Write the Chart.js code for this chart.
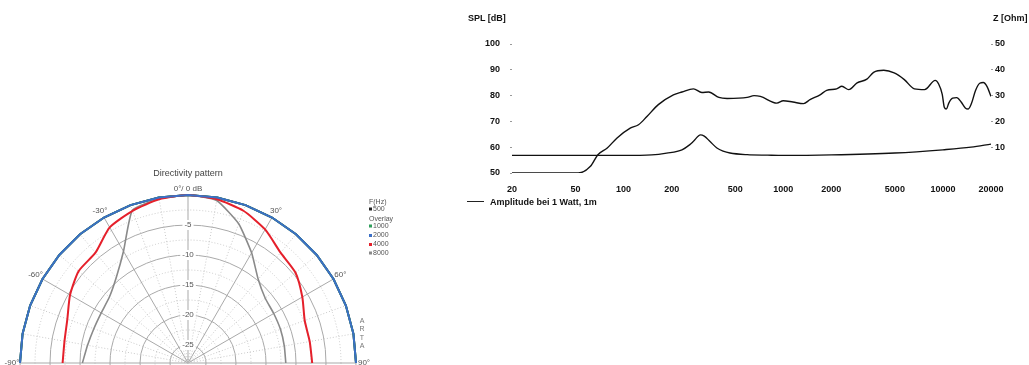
<!DOCTYPE html>
<html>
<head>
<meta charset="utf-8">
<script src="https://cdn.jsdelivr.net/npm/chart.js@4.4.1/dist/chart.umd.min.js"></script>
<style>
html, body { margin: 0; padding: 0; background: #fff; width: 1029px; height: 365px; overflow: hidden; position: relative; font-family: "Liberation Sans", Arial, sans-serif; }
#polarBox { position: absolute; left: 0; top: 150px; }
#freqBox { position: absolute; left: 460px; top: 0; }
.hdr { position: absolute; font-weight: bold; font-size: 9px; line-height: 10px; color: #111; white-space: nowrap; }
.legLine { position: absolute; left: 467px; top: 201px; width: 17px; height: 1px; background: #222; }
</style>
</head>
<body>
<div id="polarBox"><canvas id="polar" width="420" height="430"></canvas></div>
<div id="freqBox"><canvas id="freq" width="569" height="215"></canvas></div>
<div class="hdr" style="left:468px;top:13px">SPL [dB]</div>
<div class="hdr" style="left:993px;top:13px">Z [Ohm]</div>
<div class="legLine"></div>
<div class="hdr" style="left:490px;top:197px">Amplitude bei 1 Watt, 1m</div>
<script>
// frequency response (right)
var FREQ_TICKS = [20, 50, 100, 200, 500, 1000, 2000, 5000, 10000, 20000];
var SPL_TICKS = [50, 60, 70, 80, 90, 100];
var Z_TICKS = [10, 20, 30, 40, 50];

var SPL_FREQ = [20, 52, 62, 69, 79, 91, 110, 124, 140, 165, 205, 232, 274, 309, 341, 395, 445, 594, 656, 718,
  912, 1000, 1150, 1340, 1470, 1700, 1870, 2160, 2330, 2570, 2900, 3340, 3680, 4260, 4950, 5730, 6630, 7670,
  8950, 9400, 9900, 10200, 10500, 10900, 11500, 12200, 13000, 13800, 14400, 15100, 16000, 17000, 17900, 18900, 20000];
var SPL_DB = [50, 50, 52.6, 57.1, 59.7, 63.6, 67.4, 68.7, 71.9, 76.5, 80.3, 81.4, 82.6, 81.2, 81.4, 79.3, 78.9, 79.3, 80, 79.7,
  77.1, 78, 77.5, 76.9, 78.4, 80.3, 82, 82.6, 83.6, 82.3, 84.9, 86.4, 89, 89.8, 88.8, 86.2, 82.6, 82.3,
  85.9, 84.5, 80.5, 75.5, 74.8, 77.2, 79, 79.2, 77.5, 75.2, 74.8, 77, 82, 84.8, 85.1, 83.5, 79.7];

var Z_FREQ = [20, 100, 150, 186, 232, 260, 274, 303, 320, 348, 384, 420, 464, 594, 800, 1000, 2000, 5000, 10000, 15000, 20000];
var Z_OHM = [6.8, 6.8, 7, 7.7, 9, 11, 12.3, 14.8, 14.3, 12.2, 9.7, 8.5, 7.75, 7.1, 6.9, 6.8, 7, 7.75, 9, 10, 11.2];

// directivity pattern (left)
var POLAR_ANGLES = [-90, -80, -70, -60, -50, -40, -30, -20, -10, 0, 10, 20, 30, 40, 50, 60, 70, 80, 90];
var DIR_500 = [0, 0, 0, 0, 0, 0, 0, 0, 0, 0, 0, 0, 0, 0, 0, 0, 0, 0, 0];
var DIR_1000 = [0, 0, 0, 0, 0, 0, 0, 0, 0, 0, 0, 0, 0, 0, 0, 0, 0, 0, 0];
var DIR_2000 = [0, 0, 0, 0, 0, 0, 0, 0, 0, 0, 0, 0, 0, 0, 0, 0, 0, 0, 0];
var DIR_4000 = [-7.1, -7.1, -6.6, -5.3, -4.2, -4.0, -1.9, -1.0, -0.3, 0, -0.3, -1.0, -2.3, -4.0, -4.6, -6.0, -7.3, -7.4, -7.3];
var DIR_8000 = [-10.4, -11.0, -11.3, -11.3, -10.9, -9.4, -6.5, -0.9, -0.2, 0, -0.5, -3.3, -6.8, -9.8, -11.2, -11.5, -11.6, -11.7, -11.7];
var RING_LABELS = [-5, -10, -15, -20, -25];
var ANGLE_LABELS = [-90, -60, -30, 0, 30, 60, 90];

var FONT = '"Liberation Sans", Arial, sans-serif';

function pairs(xs, ys) {
  return xs.map(function(x, i) { return { x: x, y: ys[i] }; });
}

new Chart(document.getElementById('freq'), {
  type: 'line',
  data: {
    datasets: [
      { label: 'Amplitude bei 1 Watt, 1m', data: pairs(SPL_FREQ, SPL_DB), yAxisID: 'y', borderColor: '#111', borderWidth: 1.4, pointRadius: 0, cubicInterpolationMode: 'monotone', fill: false },
      { label: 'Z', data: pairs(Z_FREQ, Z_OHM), yAxisID: 'z', borderColor: '#111', borderWidth: 1.3, pointRadius: 0, cubicInterpolationMode: 'monotone', fill: false }
    ]
  },
  options: {
    responsive: false,
    animation: false,
    layout: { padding: { top: 44, bottom: 22, left: 0, right: 0 } },
    plugins: { legend: { display: false }, tooltip: { enabled: false } },
    scales: {
      x: {
        type: 'logarithmic', min: 20, max: 20000,
        grid: { display: false }, border: { display: false },
        afterBuildTicks: function(s) { s.ticks = FREQ_TICKS.map(function(v) { return { value: v }; }); },
        afterFit: function(s) { s.height = 20; },
        ticks: { autoSkip: false, maxRotation: 0, padding: 3, color: '#111', font: { family: FONT, size: 9, weight: 'bold' },
          callback: function(v) { return String(v); } }
      },
      y: {
        position: 'left', min: 50, max: 100,
        grid: { drawOnChartArea: false, tickLength: 2, tickColor: '#999' }, border: { display: false },
        afterBuildTicks: function(s) { s.ticks = SPL_TICKS.map(function(v) { return { value: v }; }); },
        afterFit: function(s) { s.width = 52; },
        ticks: { padding: 10, color: '#111', font: { family: FONT, size: 9, weight: 'bold' } }
      },
      z: {
        position: 'right', min: 0, max: 50,
        grid: { drawOnChartArea: false, tickLength: 2, tickColor: '#999' }, border: { display: false },
        afterBuildTicks: function(s) { s.ticks = Z_TICKS.map(function(v) { return { value: v }; }); },
        afterFit: function(s) { s.width = 38; },
        ticks: { padding: 2, color: '#111', font: { family: FONT, size: 9, weight: 'bold' } }
      }
    }
  }
});

// radar labels every 10 degrees, clockwise from the top
var radarLabels = [];
for (var a = 0; a < 360; a += 10) radarLabels.push(String(a));

function toRadar(values) {
  var out = radarLabels.map(function() { return null; });
  POLAR_ANGLES.forEach(function(ang, i) { out[((ang + 360) % 360) / 10] = values[i]; });
  return out;
}

var POLAR_SERIES = [
  { freq: '500', color: '#222222', data: DIR_500, width: 2, tension: 0 },
  { freq: '1000', color: '#2f9e5b', data: DIR_1000, width: 2, tension: 0 },
  { freq: '2000', color: '#3b6fc6', data: DIR_2000, width: 2, tension: 0 },
  { freq: '4000', color: '#e5202b', data: DIR_4000, width: 2, tension: 0.2 },
  { freq: '8000', color: '#8a8a8a', data: DIR_8000, width: 1.6, tension: 0.15 }
];
var DRAW_ORDER = ['2000', '4000', '8000', '1000', '500'];

function isVisibleAngle(i) { return i <= 9 || i >= 27; }

var polarText = {
  id: 'polarText',
  afterDraw: function(chart) {
    var ctx = chart.ctx, r = chart.scales.r;
    ctx.save();
    ctx.fillStyle = '#444';
    ctx.textAlign = 'center';
    ctx.textBaseline = 'middle';
    ctx.font = '9px ' + FONT;
    ctx.fillText('Directivity pattern', r.xCenter, 24);
    ctx.font = '8px ' + FONT;
    ctx.fillStyle = '#555';
    ANGLE_LABELS.forEach(function(ang) {
      var idx = ((ang + 360) % 360) / 10;
      var p = r.getPointPosition(idx, r.drawingArea + (ang === 0 ? 6 : 8));
      ctx.fillText(ang === 0 ? '0°/ 0 dB' : ang + '°', p.x, p.y);
    });
    // ARTA stamp
    ctx.font = '7px ' + FONT;
    ctx.fillStyle = '#777';
    ['A', 'R', 'T', 'A'].forEach(function(ch, i) { ctx.fillText(ch, 362, 171 + i * 8.3); });
    // legend
    ctx.textAlign = 'left';
    ctx.font = '7px ' + FONT;
    ctx.fillStyle = '#555';
    ctx.fillText('F(Hz)', 369, 52);
    ctx.fillText('Overlay', 369, 69);
    var ys = [59, 76, 85.5, 94.5, 103];
    POLAR_SERIES.forEach(function(s, i) {
      ctx.fillStyle = s.color;
      ctx.fillRect(369, ys[i] - 1.5, 3, 3);
      ctx.fillStyle = '#555';
      ctx.fillText(s.freq, 373, ys[i]);
    });
    ctx.restore();
  }
};

new Chart(document.getElementById('polar'), {
  type: 'radar',
  data: {
    labels: radarLabels,
    datasets: DRAW_ORDER.map(function(f) {
      var s = POLAR_SERIES.filter(function(x) { return x.freq === f; })[0];
      return { label: s.freq, data: toRadar(s.data), borderColor: s.color, borderWidth: s.width, pointRadius: 0, fill: false, spanGaps: false, tension: s.tension };
    })
  },
  options: {
    responsive: false,
    animation: false,
    layout: { padding: { left: 15, top: 40, right: 59, bottom: 44 } },
    plugins: { legend: { display: false }, tooltip: { enabled: false } },
    scales: {
      r: {
        min: -28, max: 0,
        ticks: {
          stepSize: 2.5,
          color: '#555',
          font: { family: FONT, size: 8 },
          backdropColor: '#fff',
          backdropPadding: { x: 2, y: 1 },
          showLabelBackdrop: function(c) { return RING_LABELS.indexOf(c.tick.value) >= 0; },
          callback: function(v) { return RING_LABELS.indexOf(v) >= 0 ? String(v) : ''; }
        },
        grid: {
          circular: true,
          lineWidth: 1,
          color: function(c) { return c.tick && c.tick.value % 5 === 0 ? '#a9a9a9' : '#c9c9c9'; }
        },
        border: {
          dash: function(c) { return c.tick && c.tick.value % 5 === 0 ? [] : [1, 2]; }
        },
        angleLines: {
          lineWidth: 1,
          color: function(c) {
            if (!isVisibleAngle(c.index)) return 'rgba(0,0,0,0)';
            return (c.index * 10) % 30 === 0 ? '#a9a9a9' : '#c9c9c9';
          },
          borderDash: function(c) { return (c.index * 10) % 30 === 0 ? [] : [1, 2]; }
        },
        pointLabels: { display: false }
      }
    }
  },
  plugins: [polarText]
});
</script>
</body>
</html>
